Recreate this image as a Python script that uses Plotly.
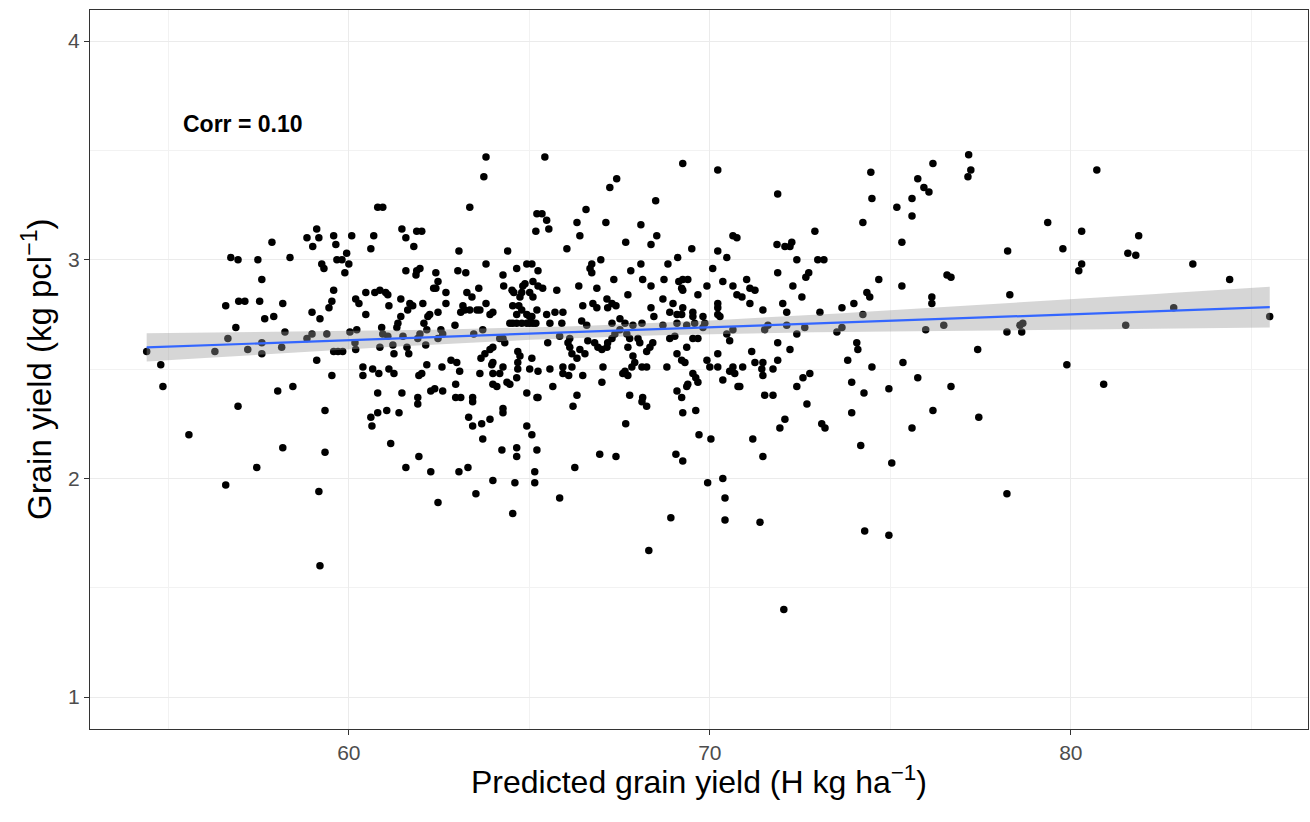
import numpy as np
import plotly.graph_objects as go

# Predicted grain yield (H kg ha^-1)
pred_yield = [
    54.40, 54.79, 56.29, 56.59, 56.65, 56.73, 56.93, 56.87, 56.95, 57.12, 57.20, 57.48, 57.59, 57.53, 57.59,
    57.59, 57.67, 57.87, 57.92, 58.14, 58.17, 58.23, 58.37, 58.84, 59.00, 59.11, 59.17, 58.98, 59.20, 58.98,
    58.84, 59.11, 59.25, 59.31, 59.39, 59.45, 59.53, 59.58, 59.58, 59.64, 59.67, 59.58,
    54.85, 55.57, 56.59, 56.93, 57.45, 58.03, 58.45, 58.17, 59.53, 59.34, 59.34, 59.17, 59.20,
    63.80, 63.74, 60.80, 60.94, 63.35, 60.08, 60.69, 60.61, 61.47, 61.58, 61.88, 62.02, 61.80, 63.05, 64.40,
    65.21, 65.18, 59.81, 59.94, 60.00, 59.89, 61.58, 61.88, 61.97, 61.86, 62.41, 62.47, 62.41, 62.35, 63.02,
    63.24, 63.80, 63.60, 64.27, 64.65, 64.93, 65.07, 64.29, 64.52, 64.57, 64.82, 64.88, 64.74, 64.79, 65.01,
    65.10, 60.47, 60.72, 60.86, 61.02, 61.08, 60.19, 60.28, 62.69, 62.69, 63.27, 63.41, 61.44, 61.69, 61.77,
    61.63, 62.05, 61.11, 60.47, 61.44, 61.36, 61.33, 62.24, 62.19, 62.08, 62.47, 63.16, 63.10, 63.21, 63.35,
    63.55, 63.63, 63.80, 63.91, 63.99, 64.54, 64.71, 64.79, 64.65, 64.93, 65.07, 62.94, 60.91, 60.03, 60.22,
    60.94, 61.08, 61.50, 61.97, 61.91, 62.16, 62.55, 62.60, 62.47, 63.46, 63.71, 64.18, 64.27, 64.32,
    64.46, 64.54, 64.65, 64.79, 64.93, 65.01, 65.18,
    59.70, 59.83, 60.17, 60.19, 60.86, 61.22, 61.25, 61.61, 61.66, 62.13, 62.16, 62.58, 62.83, 62.99, 63.66,
    63.77, 63.91, 63.99, 63.99, 64.27, 64.68, 64.74, 65.07, 60.39, 60.66, 61.11,
    60.39, 60.83, 61.25, 60.80, 61.47, 61.94, 62.02, 63.07, 62.96, 62.27, 62.38, 62.60, 62.96, 63.10, 61.91,
    61.91, 63.43, 63.43, 63.63, 63.96, 63.99, 64.18, 63.99, 64.10, 64.38, 64.46, 64.65, 64.68, 64.68, 65.01,
    65.24, 64.93, 65.21, 61.05, 60.80, 60.61, 60.64, 61.39, 61.16, 61.94, 61.58, 62.27, 63.05, 63.30, 63.32,
    63.43, 63.68, 63.91, 64.27, 64.27, 63.71, 64.24, 64.65, 64.65, 64.93, 65.07, 65.21, 65.15, 65.15, 64.60,
    63.99, 63.52, 62.47, 64.54,
    65.43, 67.42, 67.23, 69.25, 70.22, 68.50, 65.35, 65.48, 65.54, 66.57, 66.32, 66.40, 67.12, 68.09, 67.67,
    68.37, 68.53, 66.04, 69.50, 70.22, 70.47, 70.64, 70.75, 65.24, 65.10, 65.24, 65.37, 65.76, 66.73, 66.68,
    66.73, 66.98, 66.37, 66.87, 67.34, 67.81, 68.09, 68.14, 68.37, 67.73, 68.84, 69.11, 68.73, 69.14, 69.25,
    69.39, 69.22, 69.25, 69.92, 70.08, 70.36, 70.64, 69.67, 66.48, 66.76, 66.87, 67.15, 67.29, 67.40, 67.17,
    68.70, 68.98, 68.37, 68.45, 69.25, 68.89, 69.09, 69.22, 69.53, 69.53, 70.22, 70.22, 70.22, 70.28, 65.21,
    65.48, 65.71, 65.93, 65.01, 65.10, 65.57, 65.90, 66.45, 66.59, 67.29, 67.51, 67.65, 67.87, 68.12, 68.70,
    69.09, 69.36, 69.58, 69.81, 69.86, 65.51, 65.84, 66.12, 66.07, 66.12, 66.18, 66.32, 66.40, 66.54, 66.62,
    66.81, 66.90, 67.01, 67.15, 67.17, 67.29, 67.37, 67.51, 67.70, 67.78, 68.01, 68.06, 67.73, 68.25, 68.34,
    68.42, 67.87, 67.92, 67.84, 68.89, 69.03, 69.09, 69.22, 69.36, 69.53, 69.67, 69.81, 70.22, 70.47, 70.55,
    69.92, 65.57, 65.93, 66.18, 67.04, 68.25, 68.81, 70.00, 70.22,
    66.09, 65.93, 67.59, 67.73, 67.65, 68.12, 69.31, 70.55, 70.69, 70.64, 66.48, 65.65, 65.24, 66.32, 66.21,
    67.01, 67.78, 68.14, 68.12, 68.25, 69.09, 69.22, 69.25, 69.53, 69.61, 69.67, 69.39, 69.36, 69.61, 70.36,
    70.78, 67.67, 69.70, 70.03, 66.95, 67.40, 69.06, 69.25, 66.26, 65.84, 69.94, 70.36, 70.42, 70.42, 68.92,
    68.31,
    71.88, 74.46, 74.49, 76.18, 75.76, 75.93, 76.07, 75.60, 75.18, 75.60, 74.24, 75.32, 72.91, 71.86, 72.08,
    72.22, 72.27, 72.41, 72.99, 73.16, 71.88, 72.74, 72.66, 72.30, 72.55, 74.68, 75.32, 74.35, 74.43, 73.99,
    73.66, 73.05, 74.24, 71.02, 71.11, 71.25, 70.75, 70.89, 71.11, 71.47, 72.02, 72.13, 76.15, 76.15, 71.52,
    71.61, 72.13, 72.41, 72.63, 73.52, 73.66, 75.98, 70.64, 71.88, 72.22, 71.16, 74.07, 74.10, 71.88, 71.25,
    71.47, 73.82, 74.49, 75.35, 70.91, 71.75,
    71.44, 71.47, 70.83, 71.52, 71.75, 72.41, 72.58, 72.77, 72.69, 72.08, 71.94, 73.10, 73.19, 71.19, 71.47,
    73.93, 74.27, 73.93, 74.18, 74.96, 75.76, 76.18, 75.60, 75.04, 71.39, 74.29, 74.96,
    77.17, 77.23, 77.15, 80.72, 79.36, 80.30, 81.88, 78.25, 79.78, 81.58, 81.80, 80.30, 80.22, 83.38, 84.40,
    76.57, 76.68, 78.31, 76.48, 78.23, 78.59, 78.67, 78.64, 81.52, 82.85, 85.51, 77.42, 79.89,
    76.68, 77.45, 78.23, 80.91, 72.05,
]

# Observed grain yield (kg pcl^-1)
grain_yield = [
    2.58, 2.52, 2.58, 2.79, 2.64, 3.01, 3.00, 2.69, 2.81, 2.81, 2.59, 3.00, 2.91, 2.81, 2.62,
    2.57, 2.73, 3.08, 2.74, 2.60, 2.80, 2.67, 3.01, 3.10, 3.06, 3.14, 3.10, 2.76, 2.73, 2.66,
    2.64, 2.54, 2.98, 2.96, 2.66, 2.78, 2.81, 2.86, 3.11, 3.07, 3.00, 2.58,
    2.42, 2.20, 1.97, 2.33, 2.05, 2.40, 2.42, 2.14, 2.47, 2.31, 2.12, 1.94, 1.60,
    3.47, 3.38, 3.24, 3.24, 3.24, 3.11, 3.11, 3.05, 3.14, 3.10, 3.13, 3.13, 3.06, 3.04, 3.04,
    3.21, 3.13, 3.00, 3.03, 2.98, 2.94, 2.95, 2.95, 2.96, 2.93, 2.94, 2.90, 2.87, 2.87, 2.95,
    2.94, 2.98, 2.87, 2.93, 2.96, 2.98, 2.98, 2.88, 2.86, 2.85, 2.88, 2.89, 2.83, 2.85, 2.85,
    2.83, 2.85, 2.85, 2.86, 2.85, 2.84, 2.82, 2.80, 2.85, 2.80, 2.85, 2.83, 2.82, 2.80, 2.79,
    2.77, 2.80, 2.79, 2.75, 2.74, 2.71, 2.69, 2.75, 2.74, 2.71, 2.76, 2.79, 2.76, 2.77, 2.77,
    2.77, 2.77, 2.80, 2.75, 2.76, 2.79, 2.79, 2.77, 2.75, 2.75, 2.74, 2.70, 2.69, 2.67, 2.68,
    2.66, 2.65, 2.65, 2.66, 2.64, 2.68, 2.68, 2.66, 2.64, 2.66, 2.68, 2.64, 2.64, 2.62,
    2.71, 2.71, 2.71, 2.71, 2.71, 2.71, 2.71,
    2.58, 2.58, 2.62, 2.59, 2.60, 2.61, 2.57, 2.60, 2.57, 2.61, 2.52, 2.51, 2.54, 2.53, 2.55,
    2.57, 2.59, 2.60, 2.53, 2.51, 2.58, 2.56, 2.55, 2.51, 2.50, 2.50,
    2.47, 2.48, 2.48, 2.39, 2.39, 2.47, 2.48, 2.49, 2.43, 2.40, 2.41, 2.40, 2.37, 2.37, 2.37,
    2.34, 2.37, 2.35, 2.48, 2.52, 2.48, 2.48, 2.43, 2.42, 2.44, 2.43, 2.46, 2.50, 2.53, 2.50,
    2.49, 2.39, 2.37, 2.31, 2.30, 2.28, 2.24, 2.30, 2.16, 2.10, 2.05, 2.03, 2.03, 2.05, 2.28,
    2.24, 2.25, 2.27, 2.32, 2.30, 2.18, 2.13, 2.14, 2.10, 2.24, 2.20, 2.13, 2.03, 1.98, 1.98,
    1.99, 1.93, 1.89, 1.84,
    3.47, 3.37, 3.33, 3.44, 3.41, 3.27, 3.21, 3.18, 3.14, 3.23, 3.17, 3.11, 3.17, 3.16, 3.08,
    3.07, 3.11, 3.05, 3.05, 3.04, 3.01, 3.11, 3.10, 2.95, 2.90, 2.88, 2.87, 2.86, 2.98, 2.96,
    2.94, 3.00, 2.88, 2.87, 2.91, 2.95, 2.98, 2.91, 2.88, 2.84, 2.98, 3.01, 2.91, 2.90, 2.91,
    2.91, 2.87, 2.86, 2.88, 2.96, 2.90, 2.88, 2.84, 2.79, 2.80, 2.78, 2.82, 2.80, 2.79, 2.78,
    2.82, 2.80, 2.78, 2.74, 2.78, 2.76, 2.75, 2.75, 2.76, 2.74, 2.80, 2.78, 2.75, 2.74, 2.77,
    2.75, 2.76, 2.76, 2.74, 2.71, 2.71, 2.71, 2.72, 2.70, 2.71, 2.73, 2.71, 2.70, 2.71, 2.70,
    2.71, 2.70, 2.71, 2.74, 2.71, 2.62, 2.65, 2.64, 2.62, 2.60, 2.57, 2.55, 2.59, 2.57, 2.63,
    2.62, 2.60, 2.59, 2.60, 2.62, 2.64, 2.66, 2.68, 2.66, 2.64, 2.64, 2.62, 2.60, 2.58, 2.60,
    2.62, 2.56, 2.53, 2.51, 2.64, 2.65, 2.57, 2.54, 2.60, 2.64, 2.64, 2.69, 2.57, 2.66, 2.63,
    2.54, 2.50, 2.51, 2.51, 2.51, 2.51, 2.51, 2.51, 2.51,
    2.47, 2.48, 2.48, 2.47, 2.49, 2.51, 2.53, 2.49, 2.48, 2.51, 2.47, 2.42, 2.37, 2.38, 2.33,
    2.44, 2.38, 2.37, 2.35, 2.33, 2.40, 2.37, 2.30, 2.48, 2.46, 2.44, 2.43, 2.42, 2.31, 2.45,
    2.42, 2.25, 2.20, 2.18, 2.11, 2.10, 2.11, 2.08, 2.05, 1.91, 1.98, 2.00, 1.91, 1.81, 1.82,
    1.67,
    3.30, 3.40, 3.28, 3.44, 3.37, 3.33, 3.31, 3.28, 3.24, 3.20, 3.17, 3.08, 3.13, 3.07, 3.06,
    3.06, 3.08, 3.00, 3.00, 3.00, 2.94, 2.94, 2.92, 2.88, 2.83, 2.91, 2.88, 2.85, 2.83, 2.80,
    2.78, 2.76, 2.75, 2.91, 2.87, 2.86, 2.84, 2.83, 2.80, 2.77, 2.80, 2.76, 2.83, 2.80, 2.68,
    2.70, 2.70, 2.66, 2.69, 2.67, 2.69, 2.68, 2.68, 2.62, 2.59, 2.58, 2.62, 2.59, 2.54, 2.53,
    2.53, 2.54, 2.51, 2.53, 2.51, 2.50,
    2.50, 2.47, 2.42, 2.38, 2.38, 2.42, 2.46, 2.48, 2.34, 2.27, 2.23, 2.25, 2.23, 2.18, 2.10,
    2.44, 2.39, 2.30, 2.15, 2.41, 2.46, 2.31, 2.23, 2.07, 1.80, 1.76, 1.74,
    3.48, 3.41, 3.38, 3.41, 3.17, 3.13, 3.11, 3.04, 3.05, 3.03, 3.02, 2.98, 2.95, 2.98, 2.91,
    2.93, 2.92, 2.84, 2.70, 2.67, 2.70, 2.71, 2.67, 2.70, 2.78, 2.74, 2.59, 2.52,
    2.42, 2.28, 1.93, 2.43, 1.40,
]

x = np.array(pred_yield)
y = np.array(grain_yield)

# Linear fit with a 95% confidence band for the mean
slope, intercept = np.polyfit(x, y, 1)
n = len(x)
resid = y - (intercept + slope * x)
s = np.sqrt(np.sum(resid ** 2) / (n - 2))
sxx = np.sum((x - x.mean()) ** 2)
xg = np.linspace(x.min(), x.max(), 80)
yg = intercept + slope * xg
se = s * np.sqrt(1.0 / n + (xg - x.mean()) ** 2 / sxx)
t_crit = 1.965
lo = yg - t_crit * se
hi = yg + t_crit * se

FONT = "Liberation Sans, Arial, sans-serif"

fig = go.Figure()

fig.add_trace(go.Scatter(
    x=x, y=y, mode="markers",
    marker=dict(color="black", size=7.5, line=dict(width=0)),
    showlegend=False, hoverinfo="x+y",
))

fig.add_trace(go.Scatter(
    x=np.concatenate([xg, xg[::-1]]),
    y=np.concatenate([hi, lo[::-1]]),
    fill="toself", fillcolor="rgba(153,153,153,0.4)",
    line=dict(width=0), mode="lines",
    showlegend=False, hoverinfo="skip",
))

fig.add_trace(go.Scatter(
    x=xg, y=yg, mode="lines",
    line=dict(color="#3366FF", width=2.2),
    showlegend=False, hoverinfo="skip",
))

fig.add_annotation(
    x=55.35, y=3.62, xref="x", yref="y",
    text="<b>Corr = 0.10</b>", showarrow=False,
    xanchor="left", yanchor="middle",
    font=dict(family=FONT, size=23, color="black"),
)

# Axis titles
fig.add_annotation(
    x=0.5, y=-0.071, xref="paper", yref="paper",
    text="Predicted grain yield (H kg ha<sup>−1</sup>)", showarrow=False,
    xanchor="center", yanchor="middle",
    font=dict(family=FONT, size=32, color="black"),
)
fig.add_annotation(
    x=-0.044, y=0.5, xref="paper", yref="paper",
    text="Grain yield (kg pcl<sup>−1</sup>)", showarrow=False, textangle=-90,
    xanchor="center", yanchor="middle",
    font=dict(family=FONT, size=33, color="black"),
)

axis_common = dict(
    showline=True, linecolor="#333333", linewidth=1.2, mirror=True,
    ticks="outside", ticklen=5, tickwidth=1.2, tickcolor="#333333",
    gridcolor="#EBEBEB", gridwidth=1.2, zeroline=False,
    tickfont=dict(family=FONT, size=21, color="#4D4D4D"),
)

fig.update_xaxes(
    range=[52.83, 86.57], tick0=0, dtick=10,
    minor=dict(dtick=5, tick0=0, showgrid=True, gridcolor="#F2F2F2", gridwidth=0.8, ticks=""),
    **axis_common,
)
fig.update_yaxes(
    range=[0.854, 4.142], tick0=0, dtick=1,
    minor=dict(dtick=0.5, tick0=0, showgrid=True, gridcolor="#F2F2F2", gridwidth=0.8, ticks=""),
    **axis_common,
)

fig.update_layout(
    width=1310, height=822,
    margin=dict(l=90, r=2, t=10, b=93),
    paper_bgcolor="white", plot_bgcolor="white",
    font=dict(family=FONT),
)

fig.write_html("out.html")
